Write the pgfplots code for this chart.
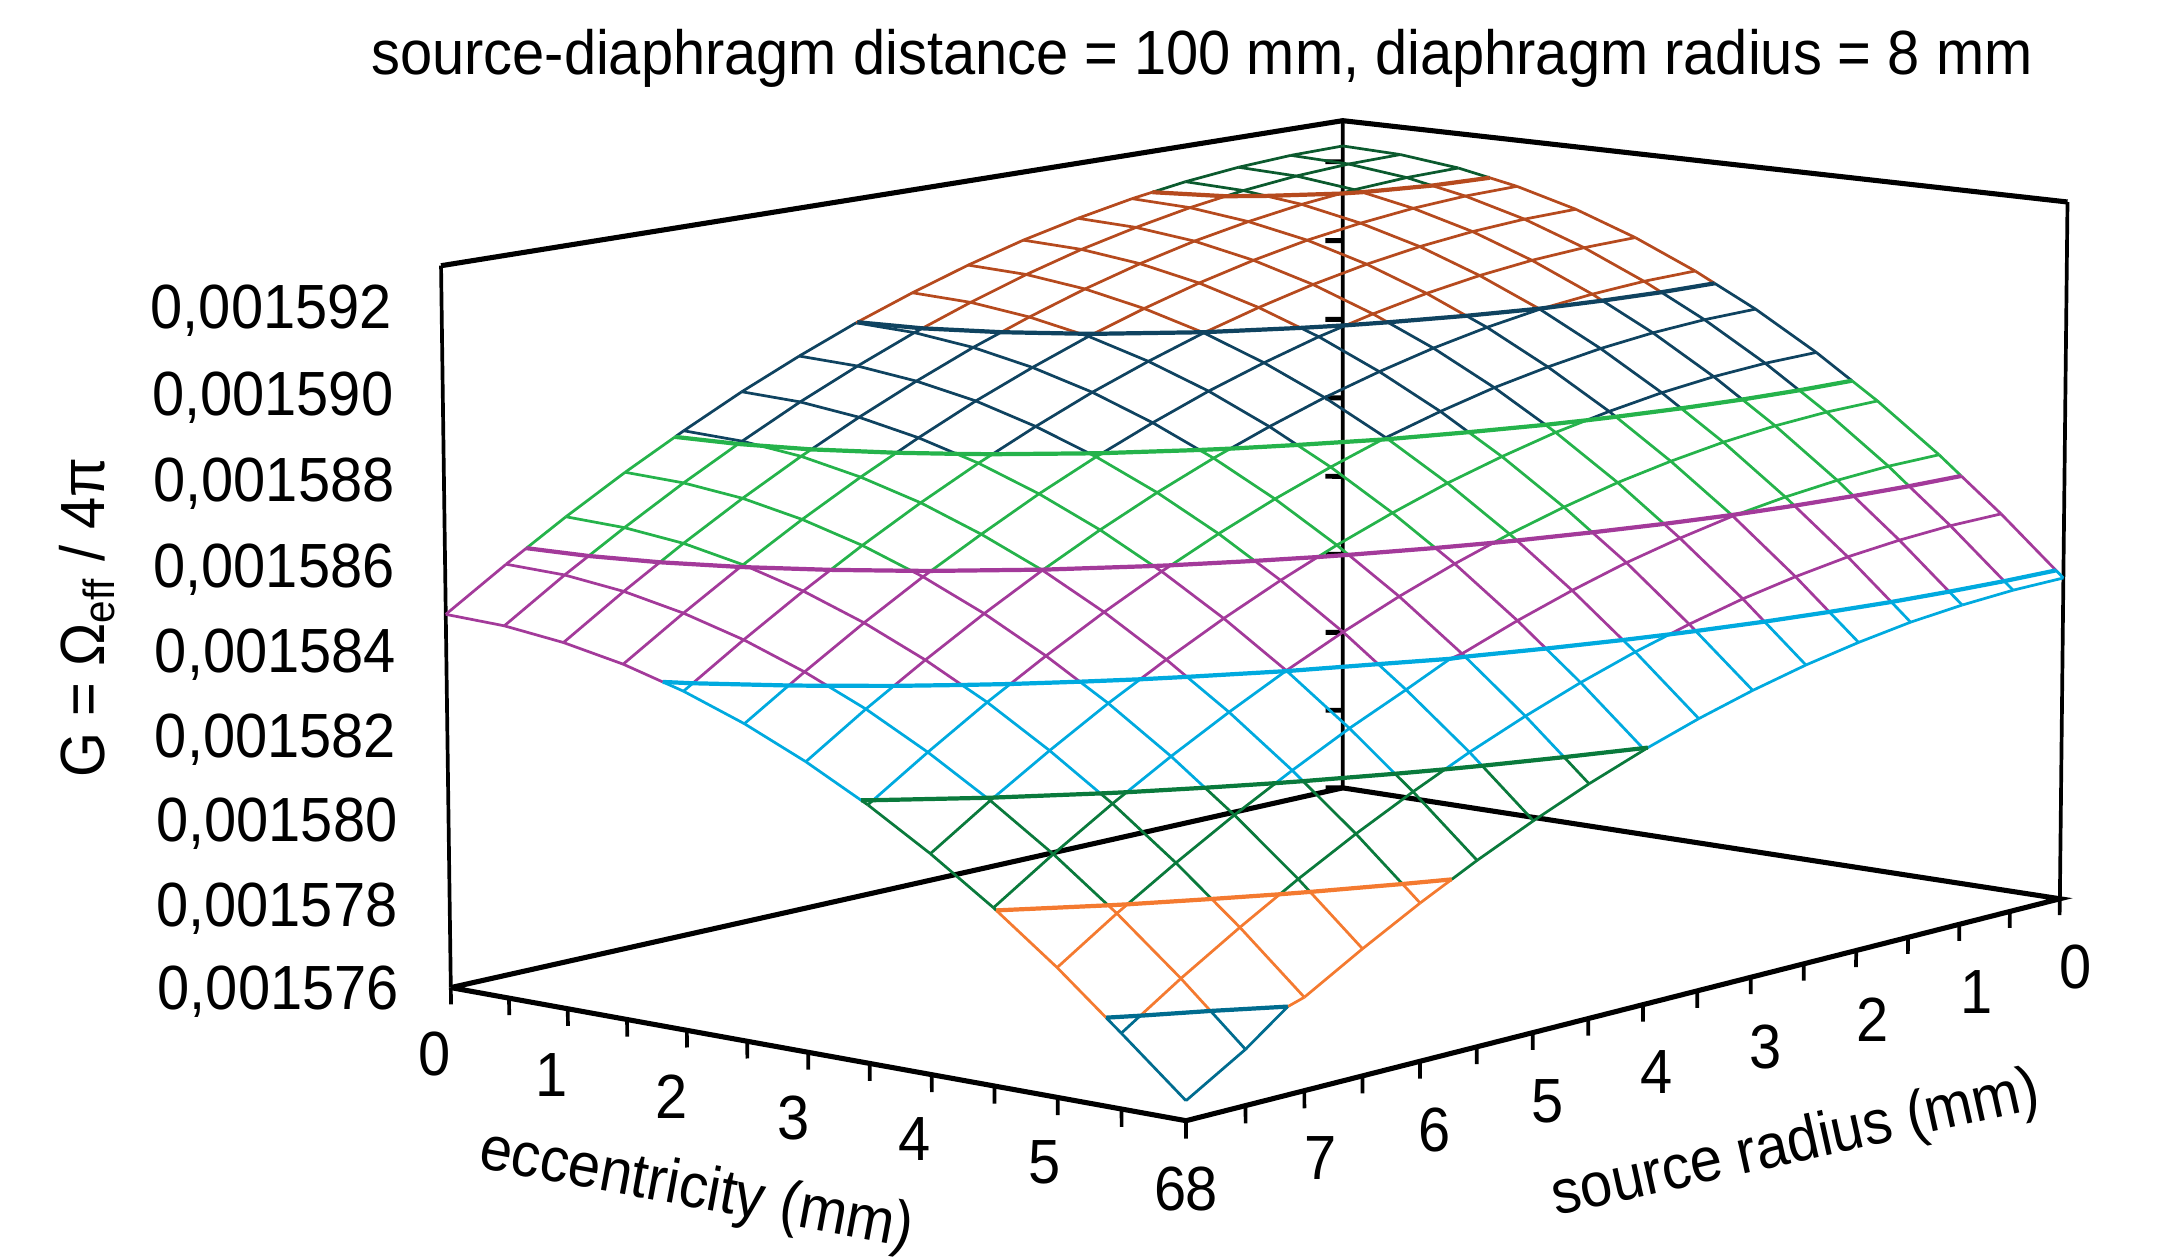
\documentclass[border=0pt]{standalone}
\usepackage{pgfplots}
\pgfplotsset{compat=1.18}
\usepackage{fontspec}
\setmainfont{Liberation Sans}
% surface values are in units of 1e-6
\newcommand\rl[2]{\addplot[gridl] table[row sep=\\,x expr={projx(\thisrow{a},#1,\thisrow{z})},y expr={projy(\thisrow{a},#1,\thisrow{z})}] {a z\\ #2};}
\newcommand\el[2]{\addplot[gridl] table[row sep=\\,x expr={projx(#1,\thisrow{a},\thisrow{z})},y expr={projy(#1,\thisrow{a},\thisrow{z})}] {a z\\ #2};}
\newcommand\ct[3]{\addplot[line width=1.2pt,color=#1] table[row sep=\\,x expr={projx(\thisrow{e},\thisrow{r},#2)},y expr={projy(\thisrow{e},\thisrow{r},#2)}] {e r\\ #3};}
\newcommand\fr[2]{\addplot[black,line width=#1,unbounded coords=jump] table[row sep=\\,x expr={projx(\thisrow{e},\thisrow{r},\thisrow{z})},y expr={projy(\thisrow{e},\thisrow{r},\thisrow{z})}] {e r z\\ #2};}
\newcommand\lbl[3]{\node[inner sep=0pt,font=\fontsize{16.45}{18}\selectfont,#1] at (axis cs:#2) {\scalebox{1}[1.08]{#3}};}
\definecolor{b1}{HTML}{006C8F}
\definecolor{b2}{HTML}{F47A30}
\definecolor{b3}{HTML}{0A7A3C}
\definecolor{b4}{HTML}{00AADF}
\definecolor{b5}{HTML}{A33A9A}
\definecolor{b6}{HTML}{25B34B}
\definecolor{b7}{HTML}{0F4360}
\definecolor{b8}{HTML}{B64A1E}
\definecolor{b9}{HTML}{0B5A2E}
\begin{document}
\begin{tikzpicture}
\path[use as bounding box] (0,0) rectangle (21.75,12.57);
\begin{axis}[
  scale only axis,width=21.75cm,height=12.57cm,
  xmin=0,xmax=1568,ymin=0,ymax=906.2,y dir=reverse,
  hide axis,clip=false,
  declare function={
    projx(\ee,\rr,\zz)=(968+73.85*\ee-83.775*\rr-0.568*(\zz-1576))/(1-0.008297*\ee-0.010463*\rr-0.000587*(\zz-1576));
    projy(\ee,\rr,\zz)=(568+7.95*\ee+10.55*\rr-28.279*(\zz-1576))/(1-0.008297*\ee-0.010463*\rr-0.000587*(\zz-1576));
  },
  colormap={bands}{color=(b1) color=(b2) color=(b3) color=(b4) color=(b5) color=(b6) color=(b7) color=(b8) color=(b9)},
  colormap access=piecewise constant,
  point meta min=1576,point meta max=1594,
  gridl/.style={mesh,line width=0.78pt,point meta=\thisrow{z}},
]
% frame
\fr{1.45pt}{0 8 1576\\ 6 8 1576\\ 6 0 1576\\ 0 0 1576\\ 0 8 1576\\ nan nan nan\\ 0 8 1592.93\\ 0 0 1593.04\\ 6 0 1592.93\\}
\fr{1.05pt}{0 8 1576\\ 0 8 1592.93\\ nan nan nan\\ 0 0 1576\\ 0 0 1593.04\\ nan nan nan\\ 6 0 1576\\ 6 0 1592.93\\}
% ticks
\fr{1.05pt}{0 8 1576\\ 0 8 1575.6\\ nan nan nan\\ .5 8 1576\\ .5 8 1575.6\\ nan nan nan\\ 1 8 1576\\ 1 8 1575.6\\ nan nan nan\\ 1.5 8 1576\\ 1.5 8 1575.6\\ nan nan nan\\ 2 8 1576\\ 2 8 1575.6\\ nan nan nan\\ 2.5 8 1576\\ 2.5 8 1575.6\\ nan nan nan\\ 3 8 1576\\ 3 8 1575.6\\ nan nan nan\\ 3.5 8 1576\\ 3.5 8 1575.6\\ nan nan nan\\ 4 8 1576\\ 4 8 1575.6\\ nan nan nan\\ 4.5 8 1576\\ 4.5 8 1575.6\\ nan nan nan\\ 5 8 1576\\ 5 8 1575.6\\ nan nan nan\\ 5.5 8 1576\\ 5.5 8 1575.6\\ nan nan nan\\ 6 8 1576\\ 6 8 1575.6\\ nan nan nan\\
6 0 1576\\ 6 0 1575.6\\ nan nan nan\\ 6 .5 1576\\ 6 .5 1575.6\\ nan nan nan\\ 6 1 1576\\ 6 1 1575.6\\ nan nan nan\\ 6 1.5 1576\\ 6 1.5 1575.6\\ nan nan nan\\ 6 2 1576\\ 6 2 1575.6\\ nan nan nan\\ 6 2.5 1576\\ 6 2.5 1575.6\\ nan nan nan\\ 6 3 1576\\ 6 3 1575.6\\ nan nan nan\\ 6 3.5 1576\\ 6 3.5 1575.6\\ nan nan nan\\ 6 4 1576\\ 6 4 1575.6\\ nan nan nan\\ 6 4.5 1576\\ 6 4.5 1575.6\\ nan nan nan\\ 6 5 1576\\ 6 5 1575.6\\ nan nan nan\\ 6 5.5 1576\\ 6 5.5 1575.6\\ nan nan nan\\ 6 6 1576\\ 6 6 1575.6\\ nan nan nan\\ 6 6.5 1576\\ 6 6.5 1575.6\\ nan nan nan\\ 6 7 1576\\ 6 7 1575.6\\ nan nan nan\\ 6 7.5 1576\\ 6 7.5 1575.6\\}
\fr{1.4pt}{0 0 1576\\ -.09 .068 1576\\ nan nan nan\\ 0 0 1578\\ -.09 .068 1578\\ nan nan nan\\ 0 0 1580\\ -.09 .068 1580\\ nan nan nan\\ 0 0 1582\\ -.09 .068 1582\\ nan nan nan\\ 0 0 1584\\ -.09 .068 1584\\ nan nan nan\\ 0 0 1586\\ -.09 .068 1586\\ nan nan nan\\ 0 0 1588\\ -.09 .068 1588\\ nan nan nan\\ 0 0 1590\\ -.09 .068 1590\\ nan nan nan\\ 0 0 1592\\ -.09 .068 1592\\}
% grid lines at constant source radius (a = eccentricity)
\rl{0}{0 1592.40\\ .5 1592.34\\ 1 1592.16\\ 1.267 1592\\ 1.5 1591.86\\ 2 1591.45\\ 2.5 1590.91\\ 3 1590.25\\ 3.162 1590\\ 3.5 1589.48\\ 4 1588.59\\ 4.292 1588\\ 4.5 1587.58\\ 5 1586.45\\ 5.18 1586\\ 5.5 1585.20\\ 5.941 1584\\ 6 1583.84\\}
\rl{.5}{0 1592.37\\ .5 1592.31\\ 1 1592.13\\ 1.217 1592\\ 1.5 1591.83\\ 2 1591.42\\ 2.5 1590.88\\ 3 1590.22\\ 3.143 1590\\ 3.5 1589.45\\ 4 1588.56\\ 4.277 1588\\ 4.5 1587.55\\ 5 1586.42\\ 5.168 1586\\ 5.5 1585.17\\ 5.93 1584\\ 6 1583.81\\}
\rl{1}{0 1592.28\\ .5 1592.22\\ 1 1592.04\\ 1.067 1592\\ 1.5 1591.74\\ 2 1591.33\\ 2.5 1590.79\\ 3 1590.13\\ 3.084 1590\\ 3.5 1589.36\\ 4 1588.47\\ 4.233 1588\\ 4.5 1587.46\\ 5 1586.33\\ 5.132 1586\\ 5.5 1585.08\\ 5.897 1584\\ 6 1583.72\\}
\rl{1.5}{0 1592.13\\ .5 1592.07\\ .694 1592\\ 1 1591.89\\ 1.5 1591.59\\ 2 1591.18\\ 2.5 1590.64\\ 2.992 1590\\ 3 1589.99\\ 3.5 1589.21\\ 4 1588.32\\ 4.158 1588\\ 4.5 1587.31\\ 5 1586.18\\ 5.073 1586\\ 5.5 1584.94\\ 5.846 1584\\ 6 1583.58\\}
\rl{2}{0 1591.92\\ .5 1591.86\\ 1 1591.68\\ 1.5 1591.39\\ 2 1590.97\\ 2.5 1590.43\\ 2.831 1590\\ 3 1589.78\\ 3.5 1589.00\\ 4 1588.11\\ 4.054 1588\\ 4.5 1587.10\\ 4.991 1586\\ 5 1585.98\\ 5.5 1584.73\\ 5.768 1584\\ 6 1583.37\\}
\rl{2.5}{0 1591.65\\ .5 1591.59\\ 1 1591.42\\ 1.5 1591.12\\ 2 1590.70\\ 2.5 1590.16\\ 2.623 1590\\ 3 1589.51\\ 3.5 1588.74\\ 3.916 1588\\ 4 1587.85\\ 4.5 1586.84\\ 4.872 1586\\ 5 1585.71\\ 5.5 1584.47\\ 5.673 1584\\ 6 1583.11\\}
\rl{3}{0 1591.33\\ .5 1591.27\\ 1 1591.09\\ 1.5 1590.79\\ 2 1590.37\\ 2.349 1590\\ 2.5 1589.84\\ 3 1589.18\\ 3.5 1588.41\\ 3.73 1588\\ 4 1587.52\\ 4.5 1586.51\\ 4.728 1586\\ 5 1585.39\\ 5.5 1584.14\\ 5.552 1584\\ 6 1582.79\\}
\rl{3.5}{0 1590.94\\ .5 1590.88\\ 1 1590.70\\ 1.5 1590.40\\ 1.988 1590\\ 2 1589.99\\ 2.5 1589.45\\ 3 1588.80\\ 3.5 1588.03\\ 3.517 1588\\ 4 1587.14\\ 4.5 1586.13\\ 4.558 1586\\ 5 1585.00\\ 5.403 1584\\ 5.5 1583.76\\ 6 1582.41\\}
\rl{4}{0 1590.49\\ .5 1590.43\\ 1 1590.25\\ 1.431 1590\\ 1.5 1589.96\\ 2 1589.54\\ 2.5 1589.01\\ 3 1588.35\\ 3.227 1588\\ 3.5 1587.58\\ 4 1586.69\\ 4.345 1586\\ 4.5 1585.69\\ 5 1584.56\\ 5.226 1584\\ 5.5 1583.32\\ 5.989 1582\\ 6 1581.97\\}
\rl{4.5}{0 1589.99\\ .5 1589.93\\ 1 1589.75\\ 1.5 1589.45\\ 2 1589.04\\ 2.5 1588.50\\ 2.885 1588\\ 3 1587.85\\ 3.5 1587.08\\ 4 1586.19\\ 4.095 1586\\ 4.5 1585.19\\ 5 1584.06\\ 5.024 1584\\ 5.5 1582.82\\ 5.804 1582\\ 6 1581.47\\}
\rl{5}{0 1589.42\\ .5 1589.36\\ 1 1589.18\\ 1.5 1588.89\\ 2 1588.47\\ 2.443 1588\\ 2.5 1587.94\\ 3 1587.29\\ 3.5 1586.52\\ 3.792 1586\\ 4 1585.63\\ 4.5 1584.63\\ 4.779 1584\\ 5 1583.50\\ 5.5 1582.27\\ 5.599 1582\\ 6 1580.91\\}
\rl{5.5}{0 1588.80\\ .5 1588.74\\ 1 1588.56\\ 1.5 1588.26\\ 1.817 1588\\ 2 1587.85\\ 2.5 1587.32\\ 3 1586.67\\ 3.435 1586\\ 3.5 1585.90\\ 4 1585.01\\ 4.5 1584.01\\ 4.504 1584\\ 5 1582.89\\ 5.359 1582\\ 5.5 1581.65\\ 6 1580.30\\}
\rl{6}{0 1588.11\\ .5 1588.05\\ .647 1588\\ 1 1587.88\\ 1.5 1587.58\\ 2 1587.17\\ 2.5 1586.63\\ 2.992 1586\\ 3 1585.99\\ 3.5 1585.22\\ 4 1584.33\\ 4.165 1584\\ 4.5 1583.33\\ 5 1582.21\\ 5.085 1582\\ 5.5 1580.98\\ 5.863 1580\\ 6 1579.63\\}
\rl{6.5}{0 1587.37\\ .5 1587.31\\ 1 1587.14\\ 1.5 1586.84\\ 2 1586.43\\ 2.406 1586\\ 2.5 1585.90\\ 3 1585.25\\ 3.5 1584.48\\ 3.773 1584\\ 4 1583.60\\ 4.5 1582.60\\ 4.768 1582\\ 5 1581.48\\ 5.5 1580.25\\ 5.593 1580\\ 6 1578.90\\}
\rl{7}{0 1586.57\\ .5 1586.51\\ 1 1586.34\\ 1.5 1586.04\\ 1.549 1586\\ 2 1585.63\\ 2.5 1585.10\\ 3 1584.45\\ 3.296 1584\\ 3.5 1583.69\\ 4 1582.80\\ 4.404 1582\\ 4.5 1581.81\\ 5 1580.69\\ 5.28 1580\\ 5.5 1579.46\\ 6 1578.12\\}
\rl{7.5}{0 1585.71\\ .5 1585.66\\ 1 1585.48\\ 1.5 1585.18\\ 2 1584.77\\ 2.5 1584.24\\ 2.688 1584\\ 3 1583.60\\ 3.5 1582.83\\ 3.972 1582\\ 4 1581.95\\ 4.5 1580.96\\ 4.932 1580\\ 5 1579.85\\ 5.5 1578.62\\ 5.73 1578\\ 6 1577.27\\}
\rl{8}{0 1584.80\\ .5 1584.74\\ 1 1584.56\\ 1.5 1584.27\\ 1.829 1584\\ 2 1583.86\\ 2.5 1583.33\\ 3 1582.68\\ 3.447 1582\\ 3.5 1581.92\\ 4 1581.04\\ 4.5 1580.05\\ 4.522 1580\\ 5 1578.94\\ 5.382 1578\\ 5.5 1577.71\\ 6 1576.45\\}
% grid lines at constant eccentricity (a = source radius)
\el{0}{0 1592.40\\ .5 1592.37\\ 1 1592.28\\ 1.5 1592.13\\ 1.81 1592\\ 2 1591.92\\ 2.5 1591.65\\ 3 1591.33\\ 3.5 1590.94\\ 4 1590.49\\ 4.49 1590\\ 4.5 1589.99\\ 5 1589.42\\ 5.5 1588.80\\ 6 1588.11\\ 6.074 1588\\ 6.5 1587.37\\ 7 1586.57\\ 7.331 1586\\ 7.5 1585.71\\ 8 1584.80\\}
\el{.5}{0 1592.34\\ .5 1592.31\\ 1 1592.22\\ 1.5 1592.07\\ 1.667 1592\\ 2 1591.86\\ 2.5 1591.59\\ 3 1591.27\\ 3.5 1590.88\\ 4 1590.43\\ 4.43 1590\\ 4.5 1589.93\\ 5 1589.36\\ 5.5 1588.74\\ 6 1588.05\\ 6.034 1588\\ 6.5 1587.31\\ 7 1586.51\\ 7.3 1586\\ 7.5 1585.66\\ 8 1584.74\\}
\el{1}{0 1592.16\\ .5 1592.13\\ 1 1592.04\\ 1.133 1592\\ 1.5 1591.89\\ 2 1591.68\\ 2.5 1591.42\\ 3 1591.09\\ 3.5 1590.70\\ 4 1590.25\\ 4.25 1590\\ 4.5 1589.75\\ 5 1589.18\\ 5.5 1588.56\\ 5.912 1588\\ 6 1587.88\\ 6.5 1587.14\\ 7 1586.34\\ 7.198 1586\\ 7.5 1585.48\\ 8 1584.56\\}
\el{1.5}{0 1591.86\\ .5 1591.83\\ 1 1591.74\\ 1.5 1591.59\\ 2 1591.39\\ 2.5 1591.12\\ 3 1590.79\\ 3.5 1590.40\\ 3.955 1590\\ 4 1589.96\\ 4.5 1589.45\\ 5 1588.89\\ 5.5 1588.26\\ 5.691 1588\\ 6 1587.58\\ 6.5 1586.84\\ 7 1586.04\\ 7.023 1586\\ 7.5 1585.18\\ 8 1584.27\\}
\el{2}{0 1591.45\\ .5 1591.42\\ 1 1591.33\\ 1.5 1591.18\\ 2 1590.97\\ 2.5 1590.70\\ 3 1590.37\\ 3.487 1590\\ 3.5 1589.99\\ 4 1589.54\\ 4.5 1589.04\\ 5 1588.47\\ 5.379 1588\\ 5.5 1587.85\\ 6 1587.17\\ 6.5 1586.43\\ 6.769 1586\\ 7 1585.63\\ 7.5 1584.77\\ 7.923 1584\\ 8 1583.86\\}
\el{2.5}{0 1590.91\\ .5 1590.88\\ 1 1590.79\\ 1.5 1590.64\\ 2 1590.43\\ 2.5 1590.16\\ 2.75 1590\\ 3 1589.84\\ 3.5 1589.45\\ 4 1589.01\\ 4.5 1588.50\\ 4.946 1588\\ 5 1587.94\\ 5.5 1587.32\\ 6 1586.63\\ 6.432 1586\\ 6.5 1585.90\\ 7 1585.10\\ 7.5 1584.24\\ 7.632 1584\\ 8 1583.33\\}
\el{3}{0 1590.25\\ .5 1590.22\\ 1 1590.13\\ 1.464 1590\\ 1.5 1589.99\\ 2 1589.78\\ 2.5 1589.51\\ 3 1589.18\\ 3.5 1588.80\\ 4 1588.35\\ 4.35 1588\\ 4.5 1587.85\\ 5 1587.29\\ 5.5 1586.67\\ 5.993 1586\\ 6 1585.99\\ 6.5 1585.25\\ 7 1584.45\\ 7.265 1584\\ 7.5 1583.60\\ 8 1582.68\\}
\el{3.5}{0 1589.48\\ .5 1589.45\\ 1 1589.36\\ 1.5 1589.21\\ 2 1589.00\\ 2.5 1588.74\\ 3 1588.41\\ 3.5 1588.03\\ 3.533 1588\\ 4 1587.58\\ 4.5 1587.08\\ 5 1586.52\\ 5.419 1586\\ 5.5 1585.90\\ 6 1585.22\\ 6.5 1584.48\\ 6.804 1584\\ 7 1583.69\\ 7.5 1582.83\\ 7.956 1582\\ 8 1581.92\\}
\el{4}{0 1588.59\\ .5 1588.56\\ 1 1588.47\\ 1.5 1588.32\\ 2 1588.11\\ 2.212 1588\\ 2.5 1587.85\\ 3 1587.52\\ 3.5 1587.14\\ 4 1586.69\\ 4.5 1586.19\\ 4.67 1586\\ 5 1585.63\\ 5.5 1585.01\\ 6 1584.33\\ 6.226 1584\\ 6.5 1583.60\\ 7 1582.80\\ 7.471 1582\\ 7.5 1581.95\\ 8 1581.04\\}
\el{4.5}{0 1587.58\\ .5 1587.55\\ 1 1587.46\\ 1.5 1587.31\\ 2 1587.10\\ 2.5 1586.84\\ 3 1586.51\\ 3.5 1586.13\\ 3.648 1586\\ 4 1585.69\\ 4.5 1585.19\\ 5 1584.63\\ 5.5 1584.01\\ 5.507 1584\\ 6 1583.33\\ 6.5 1582.60\\ 6.88 1582\\ 7 1581.81\\ 7.5 1580.96\\ 8 1580.05\\}
\el{5}{0 1586.45\\ .5 1586.42\\ 1 1586.33\\ 1.5 1586.18\\ 1.95 1586\\ 2 1585.98\\ 2.5 1585.71\\ 3 1585.39\\ 3.5 1585.00\\ 4 1584.56\\ 4.5 1584.06\\ 4.607 1584\\ 5 1583.50\\ 5.5 1582.89\\ 6 1582.21\\ 6.144 1582\\ 6.5 1581.48\\ 7 1580.69\\ 7.411 1580\\ 7.5 1579.85\\ 8 1578.94\\}
\el{5.5}{0 1585.20\\ .5 1585.17\\ 1 1585.08\\ 1.5 1584.94\\ 2 1584.73\\ 2.5 1584.47\\ 3 1584.14\\ 3.184 1584\\ 3.5 1583.76\\ 4 1583.32\\ 4.5 1582.82\\ 5 1582.27\\ 5.218 1582\\ 5.5 1581.65\\ 6 1580.98\\ 6.5 1580.25\\ 6.658 1580\\ 7 1579.46\\ 7.5 1578.62\\ 7.841 1578\\ 8 1577.71\\}
\el{6}{0 1583.84\\ .5 1583.81\\ 1 1583.72\\ 1.5 1583.58\\ 2 1583.37\\ 2.5 1583.11\\ 3 1582.79\\ 3.5 1582.41\\ 3.966 1582\\ 4 1581.97\\ 4.5 1581.47\\ 5 1580.91\\ 5.5 1580.30\\ 5.724 1580\\ 6 1579.63\\ 6.5 1578.90\\ 7 1578.12\\ 7.141 1578\\ 7.5 1577.27\\ 8 1576.45\\}
% contours
\ct{b8}{1592}{0 1.81\\ .5 1.667\\ .694 1.5\\ 1 1.133\\ 1.067 1\\ 1.217 .5\\ 1.267 0\\}
\ct{b7}{1590}{0 4.49\\ .5 4.43\\ 1 4.25\\ 1.431 4\\ 1.5 3.955\\ 1.988 3.5\\ 2 3.487\\ 2.349 3\\ 2.5 2.75\\ 2.623 2.5\\ 2.831 2\\ 2.992 1.5\\ 3 1.464\\ 3.084 1\\ 3.143 .5\\ 3.162 0\\}
\ct{b6}{1588}{0 6.074\\ .5 6.034\\ .647 6\\ 1 5.912\\ 1.5 5.691\\ 1.817 5.5\\ 2 5.379\\ 2.443 5\\ 2.5 4.946\\ 2.885 4.5\\ 3 4.35\\ 3.227 4\\ 3.5 3.533\\ 3.517 3.5\\ 3.73 3\\ 3.916 2.5\\ 4 2.212\\ 4.054 2\\ 4.158 1.5\\ 4.233 1\\ 4.277 .5\\ 4.292 0\\}
\ct{b5}{1586}{0 7.331\\ .5 7.3\\ 1 7.198\\ 1.5 7.023\\ 1.549 7\\ 2 6.769\\ 2.406 6.5\\ 2.5 6.432\\ 2.992 6\\ 3 5.993\\ 3.435 5.5\\ 3.5 5.419\\ 3.792 5\\ 4 4.67\\ 4.095 4.5\\ 4.345 4\\ 4.5 3.648\\ 4.558 3.5\\ 4.728 3\\ 4.872 2.5\\ 4.991 2\\ 5 1.95\\ 5.073 1.5\\ 5.132 1\\ 5.168 .5\\ 5.18 0\\}
\ct{b4}{1584}{1.829 8\\ 2 7.923\\ 2.5 7.632\\ 2.688 7.5\\ 3 7.265\\ 3.296 7\\ 3.5 6.804\\ 3.773 6.5\\ 4 6.226\\ 4.165 6\\ 4.5 5.507\\ 4.504 5.5\\ 4.779 5\\ 5 4.607\\ 5.024 4.5\\ 5.226 4\\ 5.403 3.5\\ 5.5 3.184\\ 5.552 3\\ 5.673 2.5\\ 5.768 2\\ 5.846 1.5\\ 5.897 1\\ 5.93 .5\\ 5.941 0\\}
\ct{b3}{1582}{3.447 8\\ 3.5 7.956\\ 3.972 7.5\\ 4 7.471\\ 4.404 7\\ 4.5 6.88\\ 4.768 6.5\\ 5 6.144\\ 5.085 6\\ 5.359 5.5\\ 5.5 5.218\\ 5.599 5\\ 5.804 4.5\\ 5.989 4\\ 6 3.966\\}
\ct{b2}{1580}{4.522 8\\ 4.932 7.5\\ 5 7.411\\ 5.28 7\\ 5.5 6.658\\ 5.593 6.5\\ 5.863 6\\ 6 5.724\\}
\ct{b1}{1578}{5.382 8\\ 5.5 7.841\\ 5.73 7.5\\ 6 7.141\\}
% text
\lbl{anchor=east}{283,224}{0,001592}
\lbl{anchor=east}{284,287}{0,001590}
\lbl{anchor=east}{285,349}{0,001588}
\lbl{anchor=east}{285,411}{0,001586}
\lbl{anchor=east}{286,472}{0,001584}
\lbl{anchor=east}{286,533}{0,001582}
\lbl{anchor=east}{287,594}{0,001580}
\lbl{anchor=east}{287,655}{0,001578}
\lbl{anchor=east}{288,715}{0,001576}
\lbl{}{313,760}{0}
\lbl{}{398,775}{1}
\lbl{}{484,791}{2}
\lbl{}{572,806}{3}
\lbl{}{659,821}{4}
\lbl{}{753,838}{5}
\lbl{}{844,857}{6}
\lbl{}{866,857}{8}
\lbl{}{952,835}{7}
\lbl{}{1034,815}{6}
\lbl{}{1116,794}{5}
\lbl{}{1194,773}{4}
\lbl{}{1273,755}{3}
\lbl{}{1350,735}{2}
\lbl{}{1425,715}{1}
\lbl{}{1496,697}{0}
\lbl{rotate=-10.5}{502,859}{eccentricity (mm)}
\lbl{rotate=12.5}{1295,826}{source radius (mm)}
\lbl{rotate=90}{63,445}{G = Ω\textsubscript{eff} / 4π}
\lbl{}{866.5,42}{source-diaphragm distance = 100 mm, diaphragm radius = 8 mm}
\end{axis}
\end{tikzpicture}
\end{document}
